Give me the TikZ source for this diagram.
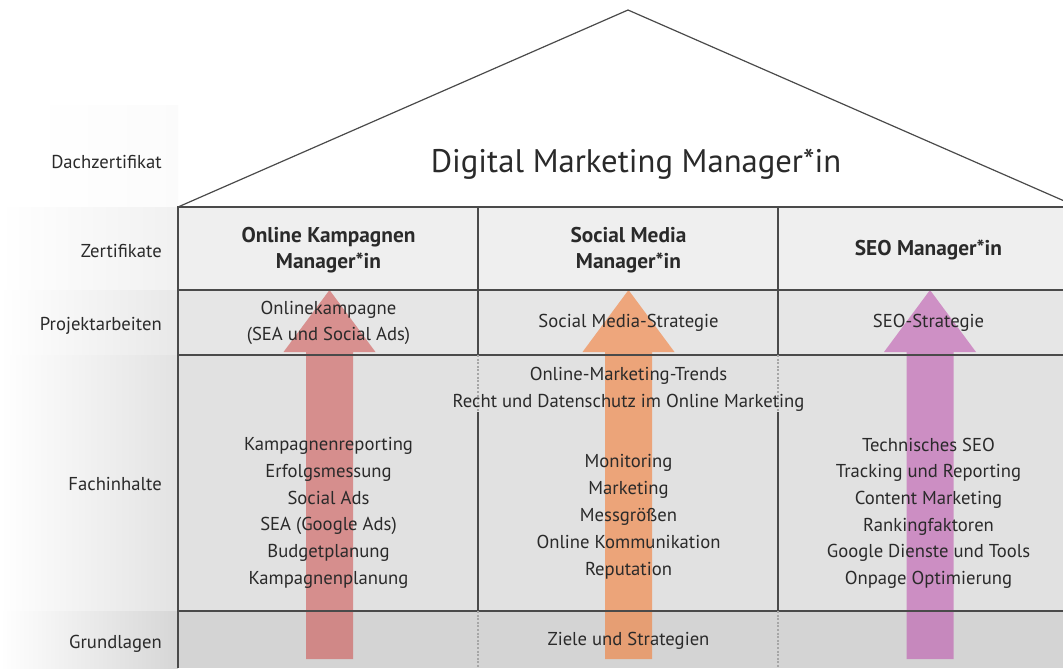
\documentclass[tikz,border=0pt]{standalone}
\usepackage{fontspec}
\setmainfont{PT Sans}
\usetikzlibrary{calc}
\definecolor{lineC}{HTML}{4A4A4A}
\definecolor{rowA}{HTML}{EFEFEF}
\definecolor{rowB}{HTML}{E6E6E6}
\definecolor{rowC}{HTML}{E1E1E1}
\definecolor{rowD}{HTML}{D4D4D4}
\definecolor{txtC}{HTML}{2A2A2A}
\definecolor{arrRed}{RGB}{205,75,72}
\definecolor{arrOrange}{RGB}{246,115,37}
\definecolor{arrPurple}{RGB}{188,75,171}
\newcommand\bigup[2]{%
  \fill[#2, opacity=0.55] (#1-23.5,659) -- (#1-23.5,352) -- (#1-46,352) -- (#1,290)
     -- (#1+46,352) -- (#1+23.5,352) -- (#1+23.5,659) -- cycle;}
\tikzset{
  frame/.style={draw=lineC, line width=1.1pt},
  divider/.style={draw=lineC, line width=0.9pt},
  dotdiv/.style={draw=gray!70, line width=0.8pt, dash pattern=on 1.5pt off 1.2pt},
  label/.style={font=\fontsize{14}{20}\selectfont, text=txtC, anchor=base east, inner sep=0pt},
  body/.style={font=\fontsize{14}{20}\selectfont, text=txtC, align=center, inner sep=0pt},
  head/.style={font=\fontsize{16}{20}\selectfont\bfseries, text=txtC, align=center, inner sep=0pt},
}
\begin{document}
\begin{tikzpicture}[x=0.75pt,y=-0.75pt]
\useasboundingbox (0,0) rectangle (1063,668);
\clip (0,0) rectangle (1063,668);
\fill[white] (0,0) rectangle (1063,668);
% left gradient bands
\shade[left color=white, right color=black!1.5] (30,105) rectangle (178,207);
\shade[left color=white, right color=rowA!90!white] (0,207) rectangle (178,290);
\shade[left color=white, right color=rowB!92!white] (0,290) rectangle (178,355);
\shade[left color=white, right color=rowC!95!white] (0,355) rectangle (178,611);
\shade[left color=white, right color=rowD!95!white] (0,611) rectangle (178,668);
% table rows
\fill[rowA] (178,207) rectangle (1078,290);
\fill[rowB] (178,290) rectangle (1078,355);
\fill[rowC] (178,355) rectangle (1078,611);
\fill[rowD] (178,611) rectangle (1078,668);
% arrows
\bigup{329.5}{arrRed}
\bigup{628.5}{arrOrange}
\bigup{930}{arrPurple}
% roof
\draw[divider] (178,207) -- (628,10) -- (1078,207);
% table lines
\draw[frame] (178,668) -- (178,207) -- (1078,207);
\draw[divider] (178,290) -- (1078,290);
\draw[divider] (178,355) -- (1078,355);
\draw[divider] (178,611) -- (1078,611);
\draw[divider] (478,207) -- (478,355);
\draw[divider] (778,207) -- (778,355);
\draw[dotdiv] (478,355) -- (478,412);
\draw[dotdiv] (778,355) -- (778,412);
\draw[divider] (478,412) -- (478,611);
\draw[divider] (778,412) -- (778,611);
\draw[dotdiv] (478,611) -- (478,668);
\draw[dotdiv] (778,611) -- (778,668);
% row labels
\node[label] (lDach) at (162,168) {Dachzertifikat};
\node[label] (lZert) at (162,257) {Zertifikate};
\node[label] (lProj) at (162,330) {Projektarbeiten};
\node[label] (lFach) at (162,490) {Fachinhalte};
\node[label] (lGrund) at (162,648) {Grundlagen};
% title
\node[font=\fontsize{24.5}{28}\selectfont, text=txtC, anchor=base, inner sep=0pt] (title) at (636,172) {Digital Marketing Manager*in};
% headers
\node[head] (h1) at (328.5,250) {Online Kampagnen\\Manager*in};
\node[head] (h2) at (628.5,250) {Social Media\\Manager*in};
\node[head] (h3) at (928.5,250) {SEO Manager*in};
% projects
\node[body] (p1) at (328.5,323) {Onlinekampagne\\(SEA und Social Ads)};
\node[body] (p2) at (628.5,323) {Social Media-Strategie};
\node[body] (p3) at (928.5,323) {SEO-Strategie};
% content
\node[body] (cAll) at (628.5,389) {Online-Marketing-Trends\\Recht und Datenschutz im Online Marketing};
\node[body] (c1) at (328.5,513) {Kampagnenreporting\\Erfolgsmessung\\Social Ads\\SEA (Google Ads)\\Budgetplanung\\Kampagnenplanung};
\node[body, font=\fontsize{14}{20.2}\selectfont] (c2) at (628.5,517) {Monitoring\\Marketing\\Messgrößen\\Online Kommunikation\\Reputation};
\node[body] (c3) at (928.5,513) {Technisches SEO\\Tracking und Reporting\\Content Marketing\\Rankingfaktoren\\Google Dienste und Tools\\Onpage Optimierung};
% basics
\node[body] (g2) at (628.5,641) {Ziele und Strategien};
\end{tikzpicture}
\end{document}
